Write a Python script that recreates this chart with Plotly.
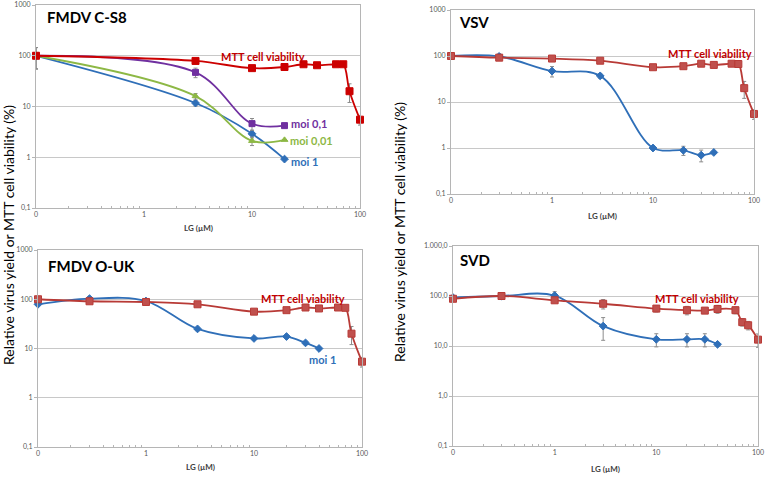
import plotly.graph_objects as go

W, H = 767, 477

# FMDV C-S8
cs8_mtt_x = [0.1, 3, 10, 20, 30, 40, 60, 70, 80, 100]
cs8_mtt_y = [100, 79, 57, 60, 68, 65, 68, 68, 20, 5.5]
cs8_mtt_err = [0, 4, 3, 3, 3, 3, 3, 3, 8, 1.2]
cs8_x = [0.1, 3, 10, 20]
cs8_moi1 = [100, 11.7, 2.9, 0.92]
cs8_moi1_err = [45, 1.5, 0.5, 0]
cs8_moi01 = [100, 47, 4.6, 4.2]
cs8_moi01_err = [45, 10, 1.2, 0]
cs8_moi001 = [100, 16, 2.1, 2.2]
cs8_moi001_err = [45, 2, 0.4, 0]

# VSV
vsv_mtt_x = [0.1, 0.3, 1, 3, 10, 20, 30, 40, 60, 70, 80, 100]
vsv_mtt_y = [100, 92, 88, 79, 57, 60, 68, 64, 68, 67, 20, 5.5]
vsv_mtt_err = [0, 3, 3, 3, 3, 3, 3, 3, 3, 3, 8, 1.3]
vsv_x = [0.1, 0.3, 1, 3, 10, 20, 30, 40]
vsv_y = [100, 98, 47, 37, 1.0, 0.89, 0.70, 0.80]
vsv_err = [0, 12, 12, 4, 0.05, 0.2, 0.2, 0.05]

# FMDV O-UK
ouk_mtt_x = [0.1, 0.3, 1, 3, 10, 20, 30, 40, 60, 70, 80, 100]
ouk_mtt_y = [100, 91, 88, 79, 56, 60, 68, 65, 68, 67, 20, 5.4]
ouk_mtt_err = [0, 4, 3, 3, 3, 3, 3, 3, 3, 3, 8, 1.2]
ouk_x = [0.1, 0.3, 1, 3, 10, 20, 30, 40]
ouk_y = [79, 103, 92, 25, 16, 17.5, 13, 10]
ouk_err = [0, 10, 5, 2, 1, 1, 1, 0.5]

# SVD
svd_mtt_x = [0.1, 0.3, 1, 3, 10, 20, 30, 40, 60, 70, 80, 100]
svd_mtt_y = [88, 100, 82, 70, 56, 52, 51, 55, 52, 30, 26, 13.4]
svd_mtt_err = [8, 15, 6, 15, 8, 10, 5, 10, 8, 5, 5, 4]
svd_x = [0.1, 0.3, 1, 3, 10, 20, 30, 40]
svd_y = [93, 100, 102, 25, 13.6, 13.6, 13.6, 10.8]
svd_err = [5, 10, 20, 12, 4, 4, 4, 0.5]

x_ticks = [0.1, 1, 10, 100]
x_ticktext = ["0", "1", "10", "100"]
x_minor = [0.2, 0.3, 0.4, 0.5, 0.6, 0.7, 0.8, 0.9, 2, 3, 4, 5, 6, 7, 8, 9,
           20, 30, 40, 50, 60, 70, 80, 90]
y_ticks = [0.1, 1, 10, 100, 1000]
y_ticktext = ["0,1", "1", "10", "100", "1000"]
y_ticktext_svd = ["0,1", "1,0", "10,0", "100,0", "1.000,0"]

RED = "#C00000"
RED2 = "#C0504D"
BLUE = "#2F6FB8"
PURPLE = "#7030A0"
GREEN = "#8DB845"
FONT = "Lato"


def px(x):
    return x / W


def py(y):
    return 1 - y / H


# pixel boxes of the four plot areas: left, right, top, bottom
boxes = [(36, 360, 5, 208), (451, 754, 10, 194), (38, 362, 250, 447), (453, 758, 246, 446)]

fig = go.Figure()


def err(arr, color="#8c8c8c"):
    return dict(type="data", array=arr, color=color, thickness=1, width=2)


def add_line(i, x, y, e, color, symbol, size, line_color=None):
    fig.add_trace(go.Scatter(
        x=x, y=y, mode="lines+markers",
        line=dict(color=line_color or color, width=1.8, shape="spline", smoothing=1),
        marker=dict(symbol=symbol, size=size, color=color,
                    line=dict(color=line_color or color, width=1)),
        error_y=err(e),
        xaxis="x" if i == 0 else "x%d" % (i + 1),
        yaxis="y" if i == 0 else "y%d" % (i + 1),
        showlegend=False, cliponaxis=False))


# panel 1
add_line(0, cs8_x, cs8_moi1, cs8_moi1_err, BLUE, "diamond", 6)
add_line(0, cs8_x, cs8_moi001, cs8_moi001_err, GREEN, "triangle-up", 6)
add_line(0, cs8_x, cs8_moi01, cs8_moi01_err, PURPLE, "square", 6)
add_line(0, cs8_mtt_x, cs8_mtt_y, cs8_mtt_err, "#CC0000", "square", 7)
# panel 2
add_line(1, vsv_x, vsv_y, vsv_err, BLUE, "diamond", 6)
add_line(1, vsv_mtt_x, vsv_mtt_y, vsv_mtt_err, RED2, "square", 7, "#B83A36")
# panel 3
add_line(2, ouk_x, ouk_y, ouk_err, BLUE, "diamond", 6)
add_line(2, ouk_mtt_x, ouk_mtt_y, ouk_mtt_err, RED2, "square", 7, "#B83A36")
# panel 4
add_line(3, svd_x, svd_y, svd_err, BLUE, "diamond", 6)
add_line(3, svd_mtt_x, svd_mtt_y, svd_mtt_err, RED2, "square", 7, "#B83A36")

layout = dict(width=W, height=H, autosize=False, margin=dict(l=0, r=0, t=0, b=0),
              paper_bgcolor="white", plot_bgcolor="white",
              font=dict(family=FONT, color="#404040"))

for i, (l, r, t, b) in enumerate(boxes):
    xa = "xaxis" if i == 0 else "xaxis%d" % (i + 1)
    ya = "yaxis" if i == 0 else "yaxis%d" % (i + 1)
    yname = "y" if i == 0 else "y%d" % (i + 1)
    xname = "x" if i == 0 else "x%d" % (i + 1)
    layout[xa] = dict(type="log", range=[-1, 2], domain=[px(l), px(r)], anchor=yname,
                      tickvals=x_ticks, ticktext=x_ticktext, showgrid=False,
                      showline=True, mirror=True, linecolor="#b5b5b5", linewidth=1,
                      ticks="", tickfont=dict(size=7, color="#595959"),
                      minor=dict(tickmode="array", tickvals=x_minor, ticks="inside",
                                 ticklen=2, tickcolor="#b5b5b5"),
                      zeroline=False, automargin=False)
    layout[ya] = dict(type="log", range=[-1, 3], domain=[py(b), py(t)], anchor=xname,
                      tickvals=y_ticks, ticktext=y_ticktext_svd if i == 3 else y_ticktext,
                      showgrid=True, gridcolor="#c8c8c8", gridwidth=1,
                      showline=True, mirror=True, linecolor="#b5b5b5", linewidth=1,
                      ticks="outside", ticklen=3, tickcolor="#b5b5b5",
                      tickfont=dict(size=7, color="#595959"), zeroline=False,
                      automargin=False)

fig.update_layout(**layout)

ann = []


def note(x, y, text, color="#000000", size=10, bold=True, xanchor="center", angle=0):
    ann.append(dict(x=px(x), y=py(y), xref="paper", yref="paper", showarrow=False,
                    text="<b>%s</b>" % text if bold else text, textangle=angle,
                    font=dict(family=FONT, size=size, color=color),
                    xanchor=xanchor, yanchor="middle"))


# panel titles
note(45, 17, "FMDV C-S8", size=15, xanchor="left")
note(457, 22, "VSV", size=15, xanchor="left")
note(46, 266, "FMDV O-UK", size=15, xanchor="left")
note(458, 260, "SVD", size=15, xanchor="left")

# series labels
note(263, 57, "MTT cell viability", RED, size=11)
note(289, 124, "moi 0,1", PURPLE, size=11, xanchor="left")
note(288, 140, "moi 0,01", GREEN, size=11, xanchor="left")
note(289, 161, "moi 1", BLUE, size=11, xanchor="left")
note(710, 54, "MTT cell viability", RED, size=11)
note(303, 298, "MTT cell viability", RED, size=11)
note(322, 359, "moi 1", BLUE, size=11)
note(697, 298, "MTT cell viability", RED, size=11)

# x axis titles
note(198, 228, "LG (µM)", "#404040", size=8)
note(602, 216, "LG (µM)", "#404040", size=8)
note(200, 467, "LG (µM)", "#404040", size=8)
note(605, 469, "LG (µM)", "#404040", size=8)

# y axis titles
note(8, 235, "Relative virus yield or MTT cell viability (%)", "#000000", size=14,
     bold=False, angle=-90)
note(399, 232, "Relative virus yield or MTT cell viability (%)", "#000000", size=14,
     bold=False, angle=-90)

fig.update_layout(annotations=ann)

fig.write_html("out.html", config={"displayModeBar": False, "responsive": False},
               post_script="document.body.style.margin='0';")
